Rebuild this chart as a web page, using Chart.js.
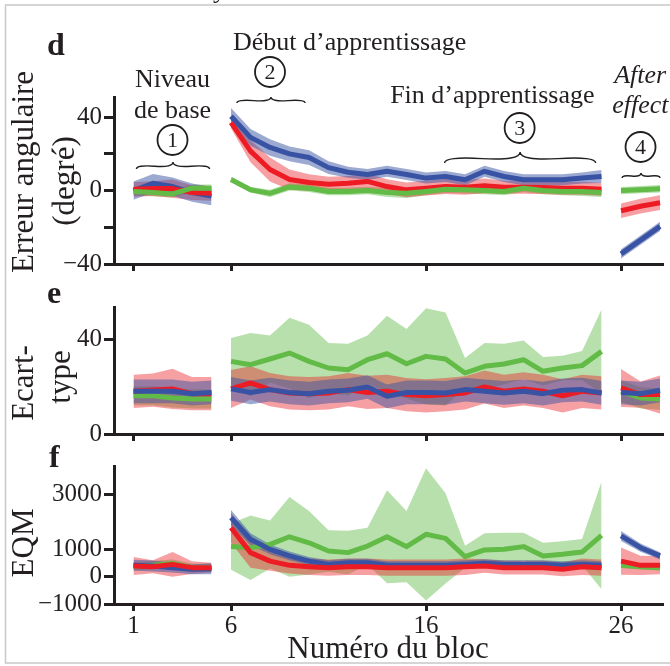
<!DOCTYPE html>
<html>
<head>
<meta charset="utf-8">
<script src="https://cdn.jsdelivr.net/npm/chart.js@4.4.0/dist/chart.umd.min.js"></script>
<style>
html,body{margin:0;padding:0;background:#ffffff;}
#wrap{position:relative;width:670px;height:666px;overflow:hidden;background:#ffffff;}
#wrap canvas{position:absolute;left:0;top:0;}
</style>
</head>
<body>
<div id="wrap">
<canvas id="cd" width="670" height="666"></canvas>
<canvas id="ce" width="670" height="666"></canvas>
<canvas id="cf" width="670" height="666"></canvas>
</div>
<script>
// ---------- data ----------
const BLOCKS = [1,2,3,4,5,6,7,8,9,10,11,12,13,14,15,16,17,18,19,20,21,22,23,24,25,26,27,28];
const SEGMENT_ENDS = [5, 25];
const X_TICKS = [1, 6, 16, 26];
const X_TICK_LABELS = ['1', '6', '16', '26'];

const D_TICKS = [-40, -20, 0, 20, 40];
const D_TICK_LABELS = ['\u221240', '', '0', '', '40'];
const E_TICKS = [0, 40];
const E_TICK_LABELS = ['0', '40'];
const F_TICKS = [-1000, 0, 1000, 3000];
const F_TICK_LABELS = ['\u22121000', '0', '1000', '3000'];

// Panel d : erreur angulaire (degré)
const dRed      = [0.7,1.1,1.1,-1.1,-1.5, 37,21.5,11.5,6,4.4,3.5,4,5,2.2,0.4,1.3,2.2,1.8,2.6,1.8,1.8,1.7,1.3,1.3,0.7, -11,-8.5,-6.6];
const dRedErr   = [4,4,5,4,4, 3,6,6.5,5.5,4.5,4,4,4,4,4,4,4,4,4,3.5,3.5,3.5,3.5,3.5,3.5, 4,4,4];
const dBlue     = [0,4,2.2,-1.1,-3, 40.5,29,23.5,20,18,12.5,10,8.8,10.5,8.8,6.8,7.7,5.9,10.5,7.7,5.9,5.9,5.9,6.8,7.7, -34.5,-27,-19.5];
const dBlueErr  = [5,5,5,5,5, 4.5,4.5,4.5,4,4,3.5,3,3,3,3,3,3,3,3,3,3,3,3,3,3.5, 2.5,2.5,2.5];
const dGreen    = [-0.5,-1.1,-1.8,1.3,1.3, 6,0.5,-1.5,2,1.3,-0.5,-0.5,0,-1,-1.5,-0.5,0.7,0.4,0,-0.5,1.3,0,-0.5,-0.5,-1, 0,0.5,1];
const dGreenErr = [2,2,2,2,2, 1.5,1.5,2,2,2,2,2,2,2.5,2.5,2,2,2,2,2,2,2,2,2.5,2.5, 2,2,2];

// Panel e : écart-type
const eRed      = [18,18.5,19,17,17, 19,21.5,18.7,17.3,17,17.3,18.7,17.5,18,16.6,16.1,16.6,17.3,19.8,18,19,18,16.1,18,17.3, 19.4,16.6,16.6];
const eRedErr   = [7,7,8.5,7,7, 8,7,7,7,7,7,7,7,7,7,7,7,7,7,7,7,7,7,7,7, 8,5.5,8];
const eBlue     = [18,18,18,17,17.5, 19,17.5,18.7,17.5,17,18,18.4,19.8,15.9,17.5,17.5,17.3,18.7,18,17.3,18,17,18.4,18.7,17.3, 17.5,17,18.4];
const eBlueErr  = [5,5,5,5,5, 5,5,5,5,5,5,5,5,5,5,5,5,5,5,5,5,5,5,5,5, 5,5,5];
const eGreen    = [16.1,16.1,15.2,14.7,14.7, 30.6,29.2,31.6,34.1,30.6,27.8,27.1,31.3,33.8,29.6,32.7,31.6,25.7,28.5,29.5,31.3,26.4,27.8,28.8,34.8, 18,15.2,14.7];
const eGreenErr = [4,4,4,4,4, 9.8,13.3,9.9,14.9,15.4,10.5,10.9,10.2,16,14.6,20.3,19.6,6.3,9.8,8.5,8.1,6,5.2,6.2,17.6, 4.5,4.5,4.5];

// Panel f : EQM
const fRed      = [390,365,450,330,330, 1790,880,570,415,365,330,365,365,330,330,330,330,365,390,330,330,330,270,365,330, 570,415,415];
const fRedErr   = [330,240,455,235,180, 550,550,350,300,300,300,300,300,300,300,300,300,300,250,250,250,250,250,300,300, 500,350,330];
const fBlue     = [415,390,330,270,290, 2160,1370,1000,760,570,450,510,510,415,415,415,415,450,490,450,450,450,415,450,415, 1490,1060,760];
const fBlueErr  = [200,200,180,180,200, 280,220,180,160,150,150,150,150,150,150,150,150,150,150,150,150,150,150,150,150, 180,150,130];
const fGreen    = [380,420,480,330,320, 1100,1060,1180,1460,1240,940,880,1120,1460,1100,1550,1400,730,980,1000,1100,760,820,900,1510, 415,365,330];
const fGreenErr = [150,150,150,150,150, 850,1180,880,1460,1160,760,800,670,1700,1300,2420,1650,400,610,610,510,480,480,480,1970, 100,100,100];

// ---------- styles ----------
const INK = '#231f20';
const SERIF = '"Liberation Serif", "Times New Roman", serif';
const RED = '#ed1c24', BLUE = '#3953a4', GREEN = '#62bb46';
const RED_BAND = 'rgba(237,28,36,0.42)';
const BLUE_BAND = 'rgba(57,83,164,0.5)';
const GREEN_BAND = 'rgba(98,187,70,0.45)';

function pts(vals, errs, k) {
  const out = [];
  for (let i = 0; i < BLOCKS.length; i++) {
    const b = BLOCKS[i];
    out.push({x: b, y: vals[i] + (errs ? k * errs[i] : 0)});
    if (SEGMENT_ENDS.indexOf(b) >= 0) out.push({x: b + 0.5, y: null});
  }
  return out;
}

function makeDatasets(list) {
  const ds = [];
  list.forEach(s => {
    ds.push({data: pts(s.vals, s.errs, 1), borderColor: 'rgba(0,0,0,0)', borderWidth: 0, pointRadius: 0,
             backgroundColor: s.band, fill: '+1', order: s.bandOrder});
    ds.push({data: pts(s.vals, s.errs, -1), borderColor: 'rgba(0,0,0,0)', borderWidth: 0, pointRadius: 0,
             fill: false, order: s.bandOrder});
    ds.push({data: pts(s.vals, null, 0), borderColor: s.color, borderWidth: 5, pointRadius: 0,
             fill: false, order: s.lineOrder, borderJoinStyle: 'round'});
  });
  return ds;
}

function makeChart(id, cfg) {
  return new Chart(document.getElementById(id), {
    type: 'line',
    data: {datasets: cfg.datasets},
    options: {
      responsive: false, animation: false, devicePixelRatio: 1, events: [],
      layout: {padding: {top: cfg.top, left: 0, right: 8, bottom: 0}},
      plugins: {legend: {display: false}, tooltip: {enabled: false}, filler: {propagate: false}},
      elements: {line: {tension: 0}},
      scales: {
        x: {
          type: 'linear', min: 0, max: 28.1, position: 'bottom',
          border: {display: true, width: 3, color: INK},
          grid: {drawOnChartArea: false, drawTicks: true, tickLength: 7, lineWidth: 3, color: INK},
          ticks: {display: cfg.xLabels, font: {family: SERIF, size: 25}, color: INK, padding: 0,
                  maxRotation: 0, autoSkip: false,
                  callback: (v) => { const i = X_TICKS.indexOf(v); return i >= 0 ? X_TICK_LABELS[i] : ''; }},
          afterBuildTicks: (s) => { s.ticks = X_TICKS.map(v => ({value: v})); },
          afterFit: (s) => { s.height = 666 - cfg.bottom; }
        },
        y: {
          type: 'linear', min: cfg.ymin, max: cfg.ymax, position: 'left',
          border: {display: true, width: 3, color: INK},
          grid: {drawOnChartArea: false, drawTicks: true, tickLength: 10, lineWidth: 3, color: INK},
          ticks: {font: {family: SERIF, size: 25}, color: INK, padding: 2, autoSkip: false,
                  callback: (v) => { const i = cfg.ticks.indexOf(v); return i >= 0 ? cfg.labels[i] : ''; }},
          afterBuildTicks: (s) => { s.ticks = cfg.ticks.map(v => ({value: v})); },
          afterFit: (s) => { s.width = 114; }
        }
      }
    },
    plugins: [cfg.plugin]
  });
}

function vtext(ctx, str, x, y, size) {
  ctx.save();
  ctx.translate(x, y);
  ctx.rotate(-Math.PI / 2);
  ctx.font = size + 'px ' + SERIF;
  ctx.textAlign = 'center';
  ctx.textBaseline = 'alphabetic';
  ctx.fillText(str, 0, 0);
  ctx.restore();
}
function text(ctx, str, x, y, font, align) {
  ctx.font = font;
  ctx.textAlign = align || 'center';
  ctx.textBaseline = 'alphabetic';
  ctx.fillText(str, x, y);
}
function circled(ctx, str, x, y) {
  ctx.beginPath();
  ctx.arc(x, y, 15, 0, Math.PI * 2);
  ctx.lineWidth = 1.8;
  ctx.strokeStyle = INK;
  ctx.stroke();
  ctx.font = '22px ' + SERIF;
  ctx.textAlign = 'center';
  ctx.textBaseline = 'middle';
  ctx.fillText(str, x, y + 1);
}
function brace(ctx, xl, xr, yb, w) {
  const x1 = xr, len = xr - xl, q = 0.6;
  const tipX = (xl + xr) / 2, tipY = yb - w;
  ctx.beginPath();
  ctx.moveTo(x1, yb);
  let cx = x1, cy = yb - q * w, ex = x1 - 0.25 * len, ey = yb - (1 - q) * w;
  ctx.quadraticCurveTo(cx, cy, ex, ey);
  ctx.quadraticCurveTo(2 * ex - cx, 2 * ey - cy, tipX, tipY);
  ctx.moveTo(xl, yb);
  cx = xl; cy = yb - q * w; ex = x1 - 0.75 * len; ey = yb - (1 - q) * w;
  ctx.quadraticCurveTo(cx, cy, ex, ey);
  ctx.quadraticCurveTo(2 * ex - cx, 2 * ey - cy, tipX, tipY);
  ctx.lineWidth = 1.4;
  ctx.strokeStyle = INK;
  ctx.stroke();
}

const annotD = {
  id: 'annotD',
  afterDraw(chart) {
    const ctx = chart.ctx, X = (b) => chart.scales.x.getPixelForValue(b);
    ctx.save();
    ctx.fillStyle = INK;
    // frame
    ctx.strokeStyle = '#c8c8c8'; ctx.lineWidth = 1.5;
    ctx.strokeRect(5.5, 5, 700, 658);
    text(ctx, 'y', 213, -2, '26px ' + SERIF, 'left');
    text(ctx, 'd', 47, 55, 'bold 32px ' + SERIF, 'left');
    vtext(ctx, 'Erreur angulaire', 33, 172, 31);
    vtext(ctx, '(degré)', 74, 181, 31);
    // 1
    text(ctx, 'Niveau', X(3), 87, '26px ' + SERIF);
    text(ctx, 'de base', X(3), 118, '26px ' + SERIF);
    circled(ctx, '1', X(3), 140);
    brace(ctx, X(1.15), X(4.9), 169, 7);
    // 2
    text(ctx, 'Début d\u2019apprentissage', X(6) + 2, 50, '26px ' + SERIF, 'left');
    circled(ctx, '2', X(8), 72);
    brace(ctx, X(6.3), X(9.8), 103, 6);
    // 3
    text(ctx, 'Fin d\u2019apprentissage', X(19.4), 103, '26px ' + SERIF);
    circled(ctx, '3', X(20.8), 128);
    brace(ctx, X(16.95), X(24.7), 163, 11);
    // 4
    text(ctx, 'After', X(25.65), 83, 'italic 26px ' + SERIF, 'left');
    text(ctx, 'effect', X(25.55), 113, 'italic 26px ' + SERIF, 'left');
    circled(ctx, '4', X(27), 147);
    brace(ctx, X(26.05), X(28), 178, 5);
    ctx.restore();
  }
};
const annotE = {
  id: 'annotE',
  afterDraw(chart) {
    const ctx = chart.ctx;
    ctx.save();
    ctx.fillStyle = INK;
    text(ctx, 'e', 47, 303, 'bold 32px ' + SERIF, 'left');
    vtext(ctx, 'Ecart-', 33, 383, 31);
    vtext(ctx, 'type', 70, 377, 31);
    ctx.restore();
  }
};
const annotF = {
  id: 'annotF',
  afterDraw(chart) {
    const ctx = chart.ctx;
    ctx.save();
    ctx.fillStyle = INK;
    text(ctx, 'f', 49, 467, 'bold 32px ' + SERIF, 'left');
    vtext(ctx, 'EQM', 33, 543, 31);
    const a = chart.chartArea;
    text(ctx, 'Numéro du bloc', (a.left + a.right) / 2, 658, '31px ' + SERIF);
    ctx.restore();
  }
};

makeChart('cd', {
  top: 97, bottom: 264, ymin: -40, ymax: 51, ticks: D_TICKS, labels: D_TICK_LABELS, xLabels: false, plugin: annotD,
  datasets: makeDatasets([
    {vals: dGreen, errs: dGreenErr, color: GREEN, band: GREEN_BAND, lineOrder: 0, bandOrder: 12},
    {vals: dRed, errs: dRedErr, color: RED, band: RED_BAND, lineOrder: 1, bandOrder: 11},
    {vals: dBlue, errs: dBlueErr, color: BLUE, band: BLUE_BAND, lineOrder: 2, bandOrder: 10}
  ])
});
makeChart('ce', {
  top: 307, bottom: 434, ymin: 0, ymax: 53.5, ticks: E_TICKS, labels: E_TICK_LABELS, xLabels: false, plugin: annotE,
  datasets: makeDatasets([
    {vals: eBlue, errs: eBlueErr, color: BLUE, band: BLUE_BAND, lineOrder: 0, bandOrder: 10},
    {vals: eRed, errs: eRedErr, color: RED, band: RED_BAND, lineOrder: 1, bandOrder: 11},
    {vals: eGreen, errs: eGreenErr, color: GREEN, band: GREEN_BAND, lineOrder: 2, bandOrder: 12}
  ])
});
makeChart('cf', {
  top: 466, bottom: 604, ymin: -1000, ymax: 4050, ticks: F_TICKS, labels: F_TICK_LABELS, xLabels: true, plugin: annotF,
  datasets: makeDatasets([
    {vals: fRed, errs: fRedErr, color: RED, band: RED_BAND, lineOrder: 0, bandOrder: 11},
    {vals: fBlue, errs: fBlueErr, color: BLUE, band: BLUE_BAND, lineOrder: 1, bandOrder: 10},
    {vals: fGreen, errs: fGreenErr, color: GREEN, band: GREEN_BAND, lineOrder: 2, bandOrder: 12}
  ])
});
</script>
</body>
</html>
